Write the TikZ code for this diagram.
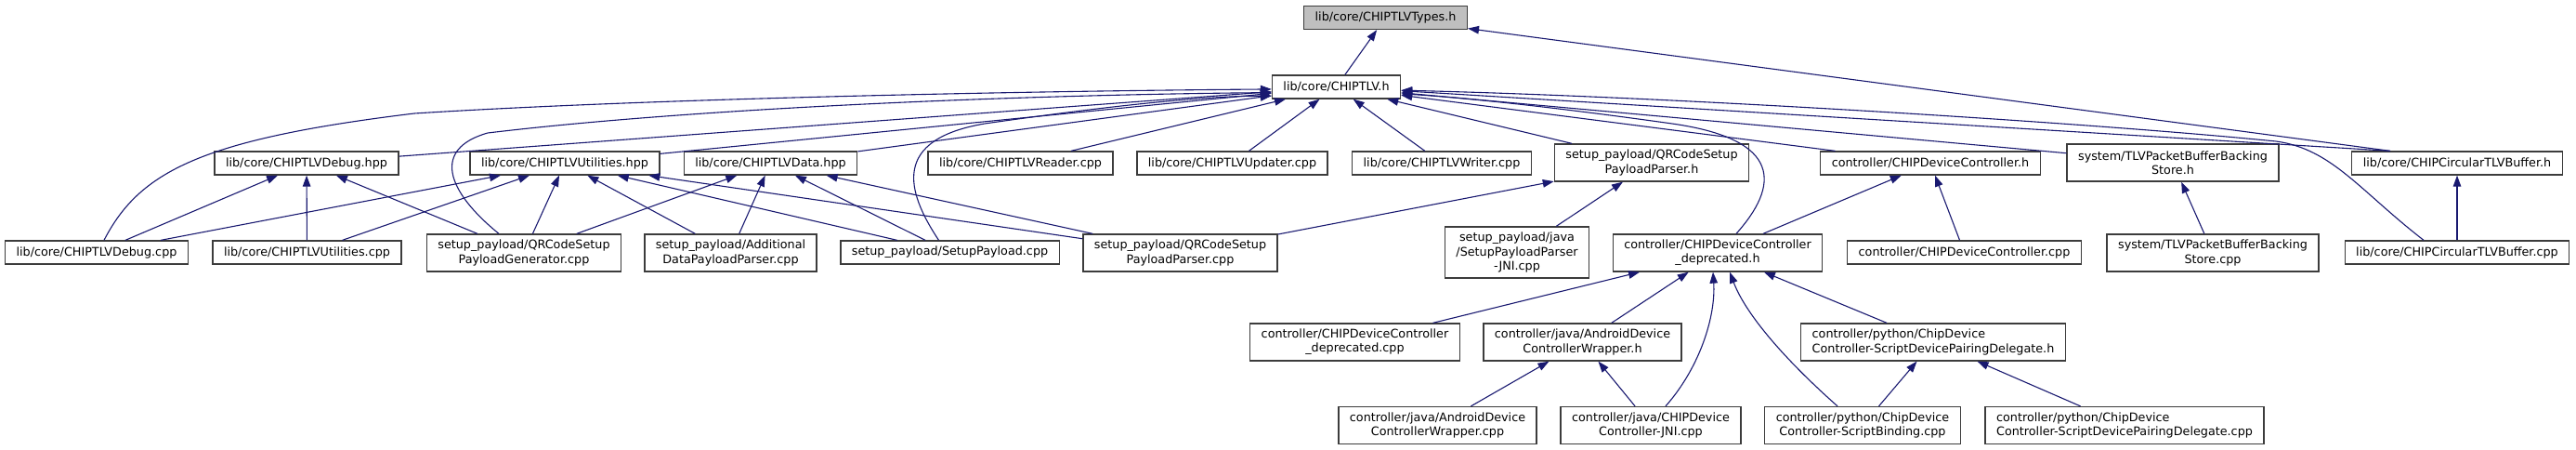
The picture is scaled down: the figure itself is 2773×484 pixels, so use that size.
\documentclass[tikz,border=0pt]{standalone}
\usepackage{fontspec}
\setmainfont{DejaVu Sans}
\usepackage{xcolor}
\usepackage{tikz}
\usetikzlibrary{positioning, arrows.meta, calc}

\definecolor{edgeblue}{RGB}{25,25,112}
\definecolor{boxgray}{RGB}{60,60,60}
\definecolor{rootgray}{RGB}{191,191,191}

\tikzset{
  file/.style={draw=boxgray, line width=1.3pt, fill=white, align=center,
    font=\fontsize{12.76}{15.3}\selectfont, inner xsep=12pt, inner ysep=0pt,
    minimum height=25pt},
  twoline/.style={file, minimum height=40pt},
  threeline/.style={file, minimum height=55pt},
  dep/.style={draw=edgeblue, line width=1.1pt, -{Triangle[length=12pt,width=8.5pt]}}
}

\begin{document}
\begin{tikzpicture}[x=1pt, y=-1pt]
        \useasboundingbox (0,0) rectangle (2773,484);

        % top
        \node[file, fill=rootgray] (types) at (1491.5,19) {lib/core/CHIPTLVTypes.h};
        \node[file] (tlv) at (1438.5,93.5) {lib/core/CHIPTLV.h};

        % headers and sources, second row
        \node[file] (dbghpp) at (330,175.5) {lib/core/CHIPTLVDebug.hpp};
        \node[file] (utilhpp) at (608,175.5) {lib/core/CHIPTLVUtilities.hpp};
        \node[file] (datahpp) at (829.5,175.5) {lib/core/CHIPTLVData.hpp};
        \node[file] (reader) at (1098.5,175.5) {lib/core/CHIPTLVReader.cpp};
        \node[file] (updater) at (1326.5,175.5) {lib/core/CHIPTLVUpdater.cpp};
        \node[file] (writer) at (1552,175.5) {lib/core/CHIPTLVWriter.cpp};
        \node[twoline] (qrparserh) at (1778,175) {setup\_payload/QRCodeSetup\\PayloadParser.h};
        \node[file] (devctrlh) at (2078,175.5) {controller/CHIPDeviceController.h};
        \node[twoline] (pbstoreh) at (2339,175) {system/TLVPacketBufferBacking\\Store.h};
        \node[file] (circh) at (2645,175.5) {lib/core/CHIPCircularTLVBuffer.h};

        % third row
        \node[file] (dbgcpp) at (104,271.5) {lib/core/CHIPTLVDebug.cpp};
        \node[file] (utilcpp) at (330.5,271.5) {lib/core/CHIPTLVUtilities.cpp};
        \node[twoline] (qrgen) at (564,272) {setup\_payload/QRCodeSetup\\PayloadGenerator.cpp};
        \node[twoline] (adddata) at (786.5,272) {setup\_payload/Additional\\DataPayloadParser.cpp};
        \node[file] (setuppl) at (1022.5,271.5) {setup\_payload/SetupPayload.cpp};
        \node[twoline] (qrparsercpp) at (1270.5,272) {setup\_payload/QRCodeSetup\\PayloadParser.cpp};
        \node[threeline] (jniparser) at (1633,271.5) {setup\_payload/java\\/SetupPayloadParser\\-JNI.cpp};
        \node[twoline] (deprh) at (1849,272) {controller/CHIPDeviceController\\\_deprecated.h};
        \node[file] (devctrlcpp) at (2114.5,271.5) {controller/CHIPDeviceController.cpp};
        \node[twoline] (pbstorecpp) at (2382,272) {system/TLVPacketBufferBacking\\Store.cpp};
        \node[file] (circcpp) at (2645,271.5) {lib/core/CHIPCircularTLVBuffer.cpp};

        % controller
        \node[twoline] (deprcpp) at (1458.5,368) {controller/CHIPDeviceController\\\_deprecated.cpp};
        \node[twoline] (wrapperh) at (1703.5,368) {controller/java/AndroidDevice\\ControllerWrapper.h};
        \node[twoline, align=left] (pairingh) at (2081,368) {controller/python/ChipDevice\\Controller-ScriptDevicePairingDelegate.h};
        \node[twoline] (wrappercpp) at (1547.5,457.5) {controller/java/AndroidDevice\\ControllerWrapper.cpp};
        \node[twoline] (jnicpp) at (1777,457.5) {controller/java/CHIPDevice\\Controller-JNI.cpp};
        \node[twoline] (binding) at (2005,457.5) {controller/python/ChipDevice\\Controller-ScriptBinding.cpp};
        \node[twoline, align=left] (pairingcpp) at (2287,457.5) {controller/python/ChipDevice\\Controller-ScriptDevicePairingDelegate.cpp};

        % includes of CHIPTLVTypes.h
        \draw[dep] (tlv) -- (types);
        \draw[dep] ([xshift=-72pt]circh.north) -- (types);

        % includes of CHIPTLV.h
        \foreach \src in {dbghpp, utilhpp, datahpp, reader, updater, writer, qrparserh, devctrlh, pbstoreh} {
          \draw[dep] (\src) -- (tlv);
        }
        \draw[dep] ([xshift=-72pt]circh.north) -- (tlv);
        \draw[dep] ([xshift=8pt]dbgcpp.north) .. controls (150,185) and (215,150) .. (446,122)
          .. controls (700,106) and (1100,98) .. (tlv.182);
        \draw[dep] ([xshift=-27pt]qrgen.north) .. controls (480,205) and (465,160) .. (525,143)
          .. controls (750,116) and (1100,102) .. (tlv.185);
        \draw[dep] ([xshift=-12pt]setuppl.north) .. controls (975,205) and (960,150) .. (1060,133)
          .. controls (1200,113) and (1300,103) .. (tlv.188);
        \draw[dep] ([xshift=20pt]deprh.north) .. controls (1915,200) and (1920,150) .. (1800,133)
          .. controls (1650,112) and (1560,104) .. (tlv.-6);
        \draw[dep] ([xshift=-36pt]circcpp.north) .. controls (2540,205) and (2510,160) .. (2450,152)
          .. controls (2250,132) and (1800,104) .. (tlv.-3);

        % second row to third row
        \foreach \src in {dbgcpp, utilcpp, qrgen} {
          \draw[dep] (\src) -- (dbghpp);
        }
        \foreach \src in {dbgcpp, utilcpp, qrgen, adddata, setuppl, qrparsercpp} {
          \draw[dep] (\src) -- (utilhpp);
        }
        \foreach \src in {qrgen, adddata, setuppl, qrparsercpp} {
          \draw[dep] (\src) -- (datahpp);
        }
        \draw[dep] (qrparsercpp) -- (qrparserh);
        \draw[dep] (jniparser) -- (qrparserh);
        \draw[dep] (deprh) -- (devctrlh);
        \draw[dep] (devctrlcpp) -- (devctrlh);
        \draw[dep] (pbstorecpp) -- (pbstoreh);
        \draw[dep] (circcpp) -- (circh);

        % controller includes
        \draw[dep] (deprcpp) -- (deprh);
        \draw[dep] (wrapperh) -- (deprh);
        \draw[dep] (pairingh) -- (deprh);
        \draw[dep] ([xshift=16pt]jnicpp.north) .. controls (1830,395) and (1847,340) .. ([xshift=-5pt]deprh.south);
        \draw[dep] ([xshift=-27pt]binding.north) .. controls (1925,390) and (1880,340) .. ([xshift=13pt]deprh.south);
        \draw[dep] (wrappercpp) -- (wrapperh);
        \draw[dep] (jnicpp) -- (wrapperh);
        \draw[dep] (binding) -- (pairingh);
        \draw[dep] (pairingcpp) -- (pairingh);
      \end{tikzpicture}
\end{document}
